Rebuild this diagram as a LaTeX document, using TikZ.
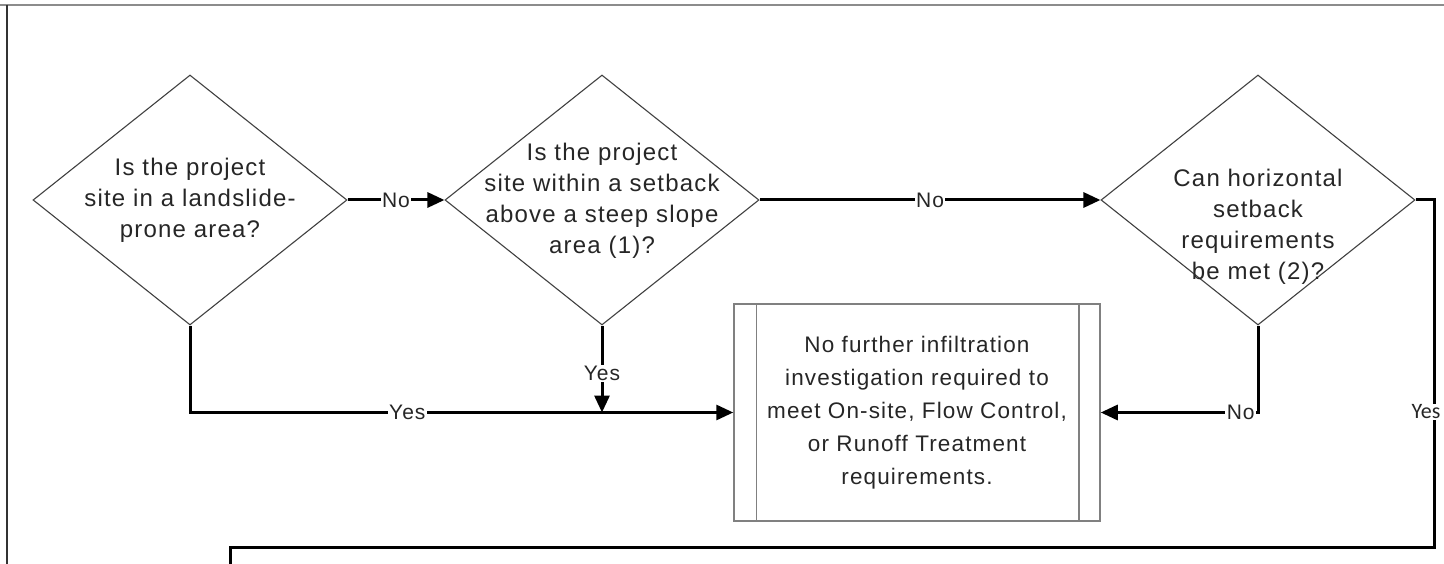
\documentclass[tikz,border=0pt]{standalone}
\usepackage{fontspec}
\setmainfont{Liberation Sans}[LetterSpace=5]
\newfontfamily\yesfont{Carlito}
\usetikzlibrary{arrows.meta, positioning, shapes.geometric}
\newcommand{\dtext}[2][-7pt]{\smash{\makebox[0pt]{\raisebox{#1}{\begin{tabular}{@{}c@{}}#2\end{tabular}}}}}

\begin{document}
\begin{tikzpicture}[
    x=1pt, y=1pt,
    decision/.style={diamond, draw=black!75, line width=1.1pt, inner sep=0pt,
                     minimum width=314pt, minimum height=250pt,
                     font=\fontsize{24}{31}\selectfont, text=black!85},
    outbox/.style={rectangle, draw=black!50, line width=1.5pt, inner sep=0pt,
                   minimum width=366pt, minimum height=217pt, align=center,
                   font=\fontsize{22.5}{33}\selectfont, text=black!85},
    arrow/.style={-{Triangle[length=17pt, width=15pt]}, line width=3pt},
    conn/.style={line width=3pt},
    lbl/.style={fill=white, inner sep=1.5pt, font=\fontsize{21}{24}\selectfont, text=black!85},
    yeslbl/.style={fill=white, inner sep=1pt, font=\yesfont\fontsize{22}{24}\selectfont, text=black!85},
]
    \useasboundingbox (0,0) rectangle (1444,-564);
    \draw[black!45, line width=2pt] (0,-5) -- (1444,-5);
    \draw[black!80, line width=2pt] (7,-5) -- (7,-564);

    \node[decision] (landslide) at (190,-200) {\dtext{Is the project\\site in a landslide-\\prone area?}};
    \node[decision] (setback) at (602,-200) {\dtext{Is the project\\site within a setback\\above a steep slope\\area (1)?}};
    \node[decision] (horizontal) at (1258,-200) {\dtext[-33pt]{Can horizontal\\setback\\requirements\\be met (2)?}};
    \node[outbox] (noinfil) at (917,-412.5) {No further infiltration\\investigation required to\\meet On-site, Flow Control,\\or Runoff Treatment\\requirements.};
    \draw[black!50, line width=1.5pt] ([xshift=23pt]noinfil.north west) -- ([xshift=23pt]noinfil.south west);
    \draw[black!50, line width=1.5pt] ([xshift=-22pt]noinfil.north east) -- ([xshift=-22pt]noinfil.south east);

    \coordinate (yesturn) at (1434,-547);
    \coordinate (yesexit) at (230,-580);

    \draw[arrow] (landslide.east) -- node[lbl] {No} (setback.west);
    \draw[arrow] (setback.east) -- node[lbl] {No} (horizontal.west);
    \draw[arrow] (landslide.south) |- node[lbl, pos=0.70] {Yes} (noinfil.west);
    \draw[arrow] (setback.south) -- node[lbl, pos=0.55] {Yes} (setback.south |- noinfil.west);
    \draw[arrow] (horizontal.south) |- node[lbl, pos=0.555] {No} (noinfil.east);
    \draw[conn] (horizontal.east) -| node[yeslbl, pos=0.805, xshift=-8pt] {Yes} (yesturn) -| (yesexit);
\end{tikzpicture}
\end{document}
